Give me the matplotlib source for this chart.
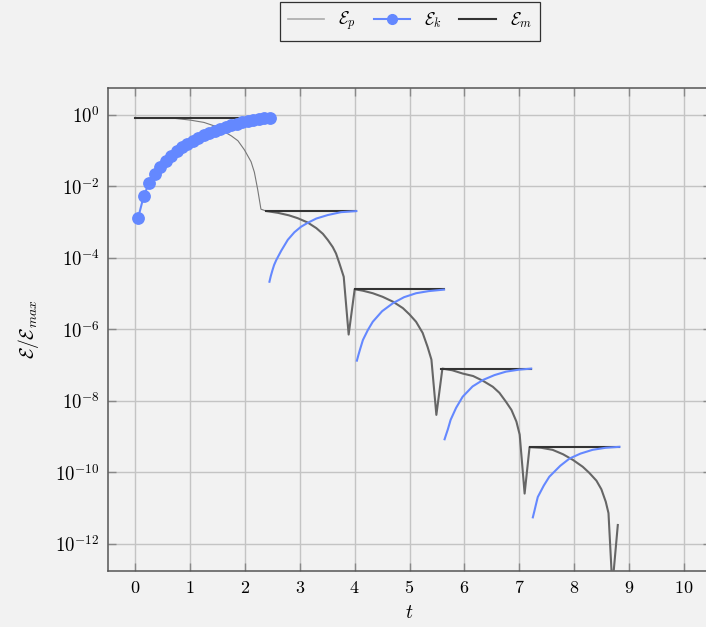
import numpy as np
import matplotlib
matplotlib.use("Agg")
import matplotlib.pyplot as plt
from matplotlib.lines import Line2D
from matplotlib.ticker import FixedLocator, FuncFormatter, NullLocator

plt.rcParams["mathtext.fontset"] = "cm"
plt.rcParams["font.family"] = "serif"

# values (log axis)
ek1_t = [0.05, 0.15, 0.25, 0.35, 0.45, 0.55, 0.65, 0.75, 0.85, 0.95, 1.05, 1.15, 1.25,
         1.35, 1.45, 1.55, 1.65, 1.75, 1.85, 1.95, 2.05, 2.15, 2.25, 2.35, 2.45]
ek1 = [1.32e-3, 5.25e-3, 1.26e-2, 2.24e-2, 3.55e-2, 5.25e-2, 7.24e-2, 9.77e-2, 0.126,
       0.155, 0.191, 0.229, 0.269, 0.316, 0.363, 0.417, 0.468, 0.513, 0.575, 0.631,
       0.676, 0.724, 0.776, 0.813, 0.832]

ek2_t = [2.445, 2.47, 2.50, 2.53, 2.57, 2.66, 2.78, 2.90, 3.02, 3.14, 3.30, 3.51, 3.75, 4.03]
ek2 = [2.14e-5, 3.1e-5, 4.5e-5, 6.3e-5, 8.7e-5, 1.58e-4, 3.2e-4, 5.2e-4, 7.4e-4, 9.5e-4,
       1.26e-3, 1.58e-3, 1.9e-3, 2.04e-3]

ek3_t = [4.04, 4.07, 4.10, 4.15, 4.24, 4.33, 4.50, 4.70, 4.90, 5.12, 5.35, 5.63]
ek3 = [1.32e-7, 1.95e-7, 2.8e-7, 5.0e-7, 9.5e-7, 1.62e-6, 3.2e-6, 5.4e-6, 7.9e-6,
       1.02e-5, 1.17e-5, 1.29e-5]

ek4_t = [5.64, 5.67, 5.70, 5.75, 5.85, 5.97, 6.15, 6.34, 6.55, 6.76, 7.00, 7.22]
ek4 = [8.3e-10, 1.15e-9, 1.58e-9, 2.9e-9, 6.3e-9, 1.29e-8, 2.5e-8, 3.8e-8, 5.2e-8,
       6.5e-8, 7.4e-8, 7.9e-8]

ek5_t = [7.25, 7.28, 7.30, 7.34, 7.45, 7.55, 7.75, 7.92, 8.12, 8.34, 8.58, 8.83]
ek5 = [5.4e-12, 8.3e-12, 1.12e-11, 2.0e-11, 4.2e-11, 7.4e-11, 1.5e-10, 2.4e-10,
       3.3e-10, 4.2e-10, 4.8e-10, 5.1e-10]

ep1_t = [0.0, 0.4, 0.7, 1.0, 1.25, 1.5, 1.62, 1.75, 1.87, 1.99, 2.11, 2.17, 2.23,
         2.29, 2.39]
ep1 = [0.84, 0.83, 0.81, 0.72, 0.62, 0.46, 0.34, 0.26, 0.19, 0.105, 0.049, 0.025,
       8.3e-3, 2.3e-3, 2.04e-3]

ep2_t = [2.39, 2.60, 2.80, 2.96, 3.14, 3.30, 3.42, 3.51, 3.60, 3.66, 3.72, 3.80, 3.89, 4.00,
         4.15, 4.33, 4.51, 4.70, 4.88, 5.00, 5.12, 5.24, 5.33, 5.40, 5.49, 5.60,
         5.78, 5.97, 6.16, 6.34, 6.52, 6.64, 6.76, 6.86, 6.95, 7.01, 7.10, 7.19,
         7.40, 7.61, 7.80, 7.98, 8.16, 8.28, 8.41, 8.50, 8.58, 8.63, 8.70, 8.80]
ep2 = [2.04e-3, 1.82e-3, 1.55e-3, 1.29e-3, 9.8e-4, 6.8e-4, 4.7e-4, 3.16e-4, 2.0e-4,
       1.32e-4, 7.1e-5, 2.95e-5, 7.1e-7, 1.32e-5,
       1.2e-5, 1.02e-5, 8.1e-6, 5.9e-6, 3.9e-6, 2.6e-6, 1.62e-6, 7.9e-7, 3.2e-7,
       1.41e-7, 4.0e-9, 7.9e-8,
       7.1e-8, 5.75e-8, 4.9e-8, 3.6e-8, 2.45e-8, 1.66e-8, 9.3e-9, 5.5e-9, 2.6e-9,
       1.12e-9, 2.5e-11, 5.0e-10,
       4.8e-10, 4.2e-10, 3.16e-10, 2.2e-10, 1.41e-10, 9.5e-11, 5.75e-11, 3.3e-11,
       1.48e-11, 7.1e-12, 6.3e-14, 3.3e-12]

em_start = [0.0, 2.39, 4.00, 5.58, 7.19]
em_end = [2.45, 4.03, 5.63, 7.22, 8.83]
em_level = [0.84, 2.04e-3, 1.32e-5, 7.9e-8, 5.1e-10]

bg = "#f2f2f2"
blue = "#6488ff"
fig = plt.figure(figsize=(7.06, 6.27), dpi=100, facecolor=bg)
ax = fig.add_axes([108 / 706, 56 / 627, 603 / 706, 483 / 627], facecolor=bg)

# Ep
ax.plot(ep1_t, ep1, color="#777777", lw=0.8, zorder=3)
ax.plot(ep2_t, ep2, color="#666666", lw=1.5, zorder=3)

# Em
for a, b, lev in zip(em_start, em_end, em_level):
    ax.plot([a, b], [lev, lev], color="#333333", lw=1.5, zorder=4)

# Ek
ax.plot(ek1_t, ek1, color=blue, lw=1.5, marker="o", ms=8.2, zorder=5)
for tt, vv in [(ek2_t, ek2), (ek3_t, ek3), (ek4_t, ek4), (ek5_t, ek5)]:
    ax.plot(tt, vv, color=blue, lw=1.5, zorder=5)

ax.set_yscale("log")
ax.set_xlim(-0.5, 10.5)
ax.set_ylim(10 ** -12.77, 10 ** 0.756)

ax.xaxis.set_major_locator(FixedLocator(list(range(0, 11))))
ax.xaxis.set_major_formatter(FuncFormatter(lambda v, _: rf"${int(round(v))}$"))
ax.yaxis.set_major_locator(FixedLocator([10.0 ** k for k in range(0, -13, -2)]))
ax.yaxis.set_major_formatter(
    FuncFormatter(lambda v, _: rf"$10^{{{int(round(np.log10(v)))}}}$"))
ax.yaxis.set_minor_locator(NullLocator())
ax.xaxis.set_minor_locator(NullLocator())

ax.tick_params(which="major", direction="in", length=6, width=1, color="#888888",
               labelsize=13, top=True, right=True, pad=6)
ax.tick_params(axis="y", labelsize=13.5)
for s in ax.spines.values():
    s.set_color("#555555")
    s.set_linewidth(1.1)
ax.grid(True, color="#c4c4c4", lw=1)
ax.set_axisbelow(True)

ax.set_xlabel(r"$t$", fontsize=14, labelpad=5)
ax.set_ylabel(r"$\mathcal{E}/\mathcal{E}_{max}$", fontsize=14, labelpad=10)

handles = [
    Line2D([], [], color="#aaaaaa", lw=1.2),
    Line2D([], [], color=blue, lw=1.5, marker="o", ms=7),
    Line2D([], [], color="#333333", lw=1.5),
]
labels = [r"$\mathcal{E}_p$", r"$\mathcal{E}_k$", r"$\mathcal{E}_m$"]
leg = fig.legend(handles, labels, loc="center", ncol=3,
                 bbox_to_anchor=(410 / 706, 1 - 21.5 / 627), fontsize=12.5,
                 frameon=True, fancybox=False, edgecolor="black",
                 facecolor=bg, handlelength=2.1, columnspacing=1.0,
                 borderpad=0.45, handletextpad=0.8)
leg.get_frame().set_linewidth(0.9)

fig.savefig("out.png", dpi=100, facecolor=bg)
